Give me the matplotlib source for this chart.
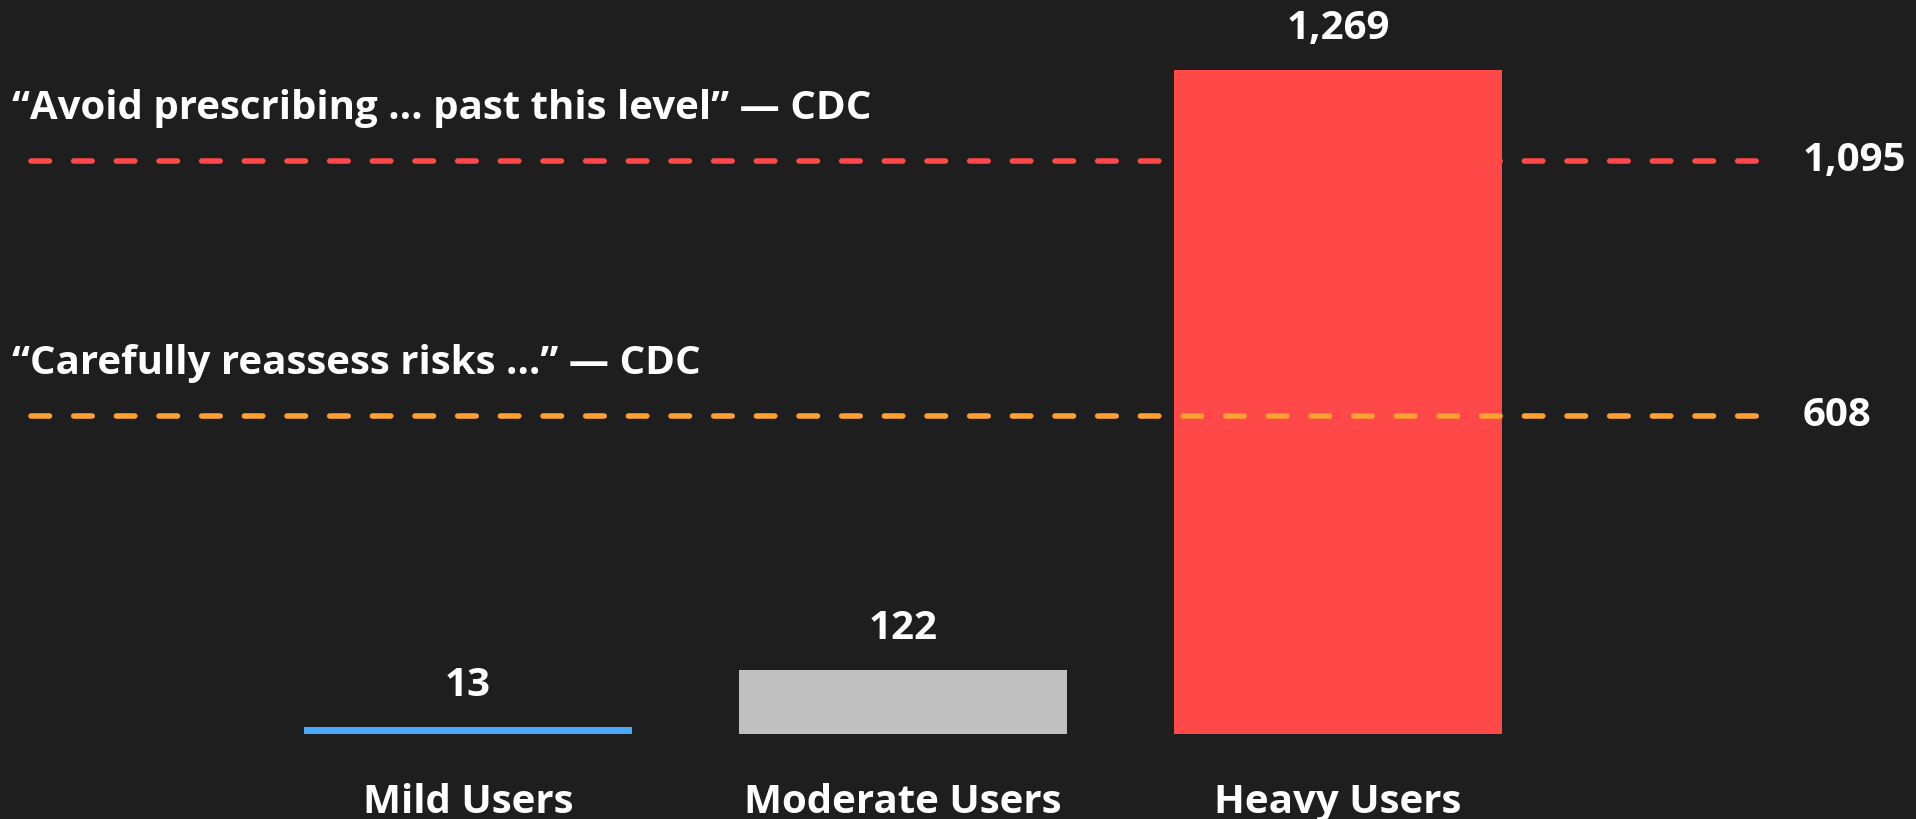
import matplotlib.pyplot as plt

categories = ['Mild Users', 'Moderate Users', 'Heavy Users']
values = [13, 122, 1269]
bar_colors = ['#4aa8ff', '#c0c0c0', '#ff4848']
value_labels = ['13', '122', '1,269']

thresholds = [1095, 608]
threshold_labels = ['1,095', '608']
threshold_notes = ['\u201cAvoid prescribing \u2026 past this level\u201d \u2014 CDC',
                   '\u201cCarefully reassess risks \u2026\u201d \u2014 CDC']
threshold_colors = ['#ff4848', '#ffa030']

bg = '#1e1e1e'
plt.rcParams['font.family'] = ['Open Sans', 'DejaVu Sans']
plt.rcParams['font.weight'] = 'bold'

fig = plt.figure(figsize=(19.16, 8.19), dpi=100, facecolor=bg)
ax = fig.add_axes([0, 1 - 734 / 819, 1, 734 / 819])
ax.set_facecolor(bg)

x = list(range(len(categories)))
ax.bar(x, values, width=0.754, color=bar_colors, zorder=2)

ax.set_xlim(-468 / 435, (1916 - 468) / 435)
ax.set_ylim(0, 734 / 0.5233)

fs = 29
for xi, v, lab in zip(x, values, value_labels):
    ax.annotate(lab, (xi, v), xytext=(0, 30), textcoords='offset points',
                ha='center', va='center', color='white', fontsize=fs,
                fontweight='bold')
    ax.annotate(categories[xi], (xi, 0), xytext=(0, -49), textcoords='offset points',
                ha='center', va='center', color='white', fontsize=fs,
                fontweight='bold', annotation_clip=False)

line_start, line_end = (31 - 468) / 435, (1760 - 468) / 435
label_x = (1803 - 468) / 435
note_x = (12 - 468) / 435
zorders = [1, 3]
for t, lab, note, c, z in zip(thresholds, threshold_labels, threshold_notes,
                              threshold_colors, zorders):
    ax.plot([line_start, line_end], [t, t], color=c, lw=4,
            dashes=(3.33, 4.35), dash_capstyle='round', zorder=z)
    ax.text(label_x, t, lab, ha='left', va='center', color='white',
            fontsize=fs, fontweight='bold')
    ax.annotate(note, (note_x, t), xytext=(0, 38), textcoords='offset points',
                ha='left', va='center', color='white', fontsize=fs,
                fontweight='bold')

ax.axis('off')
fig.savefig('out.png', dpi=100, facecolor=bg)
